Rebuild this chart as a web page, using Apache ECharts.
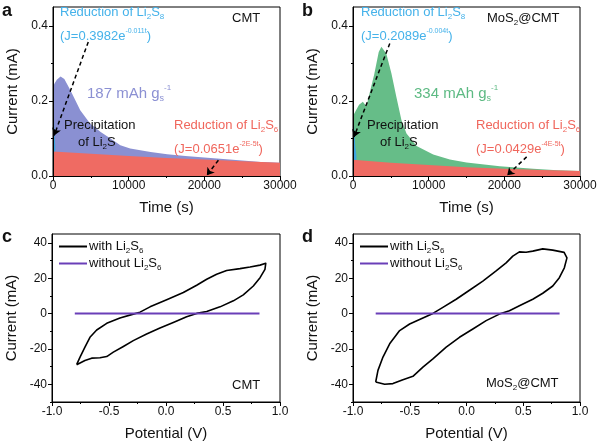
<!DOCTYPE html>
<html><head><meta charset="utf-8">
<script src="https://cdn.jsdelivr.net/npm/echarts@6/dist/echarts.min.js"></script>
<style>html,body{margin:0;padding:0;background:#fff}#c{width:600px;height:448px}</style>
</head><body><div id="c"></div>
<script>
// ---- Panel a (CMT) chronoamperometry ----
const timeA  = [0, 200, 500, 1000, 1500, 2300, 3000, 3600, 4900, 6300, 7600, 8900, 10200, 12900, 15100, 17500, 20000, 22500, 25000, 27500, 30000];
const totalA = [0.237, 0.246, 0.256, 0.265, 0.258, 0.228, 0.200, 0.175, 0.140, 0.117, 0.100, 0.082, 0.073, 0.064, 0.058, 0.053, 0.049, 0.045, 0.041, 0.037, 0.035];
const redTimeA = [0, 5000, 10000, 15000, 20000, 25000, 30000];
const redA     = [0.065, 0.059, 0.053, 0.048, 0.044, 0.039, 0.035];
const blueTimeA = [0, 60, 120, 200, 300];
const blueA     = [0.40, 0.25, 0.16, 0.11, 0.08];
// ---- Panel b (MoS2@CMT) ----
const timeB  = [0, 400, 800, 1300, 1770, 1900, 2800, 3400, 3750, 4400, 5080, 5740, 6400, 7070, 8400, 10600, 12800, 15000, 19400, 23800, 27000, 30000];
const totalB = [0.160, 0.175, 0.190, 0.198, 0.186, 0.188, 0.270, 0.330, 0.344, 0.326, 0.273, 0.210, 0.149, 0.113, 0.080, 0.057, 0.044, 0.036, 0.026, 0.019, 0.0155, 0.0135];
const redTimeB = [0, 5000, 10000, 15000, 20000, 25000, 30000];
const redB     = [0.043, 0.035, 0.029, 0.0235, 0.0195, 0.016, 0.013];
const blueTimeB = [0, 100, 200, 300, 450];
const blueB     = [0.20, 0.15, 0.11, 0.08, 0.055];
// arrows (data coords): [fromT, fromV, toT, toV]
const arrowsA = [[4660, 0.357, 150, 0.108], [21860, 0.042, 20330, 0.002]];
const arrowsB = [[4860, 0.353, 130, 0.104], [22950, 0.051, 20380, 0.002]];
// ---- Panel c / d CV loops ----
const cvC_V = [-0.784,-0.754,-0.711,-0.667,-0.608,-0.52,-0.404,-0.287,-0.228,-0.14,0.006,0.152,0.269,0.357,0.444,0.532,0.649,0.737,0.825,0.875,0.868,0.825,0.766,0.678,0.591,0.474,0.357,0.269,0.181,0.064,-0.053,-0.17,-0.287,-0.374,-0.462,-0.52,-0.579,-0.652,-0.711,-0.784];
const cvC_I = [-28.9,-24.6,-19.0,-13.4,-9.3,-5.5,-2.5,-0.3,0.8,3.8,7.8,11.9,16.0,19.4,22.2,24.4,25.4,26.3,27.4,28.4,25.0,20.3,15.6,10.6,7.2,3.8,1.2,0.1,-1.8,-5.0,-8.1,-11.5,-15.3,-18.6,-21.8,-24.3,-25.0,-25.2,-26.5,-28.9];
const cvD_V = [-0.80,-0.78,-0.736,-0.677,-0.589,-0.501,-0.384,-0.296,-0.208,-0.091,0.026,0.144,0.261,0.349,0.408,0.466,0.525,0.584,0.672,0.76,0.86,0.885,0.862,0.818,0.76,0.672,0.584,0.466,0.378,0.29,0.173,0.056,-0.062,-0.179,-0.296,-0.384,-0.472,-0.56,-0.648,-0.721,-0.80];
const cvD_I = [-38.7,-32.1,-24.6,-17.1,-9.6,-5.9,-2.5,0.1,3.5,8.1,13.2,18.4,24.1,28.7,32.5,34.9,34.7,35.3,36.6,35.9,34.6,31.5,25.9,20.3,15.6,11.5,8.1,4.4,1.6,-0.3,-4.0,-8.7,-13.4,-19.0,-25.6,-30.3,-35.5,-37.4,-39.6,-40.0,-38.7];
const blankV = [-0.8, 0.82];
const blankI = [0, 0];
// ticks
const yTicksAB = [0, 0.2, 0.4], yMinorAB = [0.1, 0.3];
const yTicksCD = [-40, -20, 0, 20, 40], yMinorCD = [-50, -30, -10, 10, 30];

const FONT = 'Liberation Sans, Arial, sans-serif';
const zip = (x, y) => x.map((v, i) => [v, y[i]]);
const C = { purple: '#8a90d2', red: '#ef6b63', green: '#66bd88', blue: '#3ea6e0', blueText: '#45b2ea', redText: '#f0665c', purpText: '#8b90d3', greenText: '#5dba83', cvPurple: '#6a3fb8' };

const grids = [
  { left: 53, top: 7, width: 227, height: 169 },
  { left: 353, top: 7, width: 227, height: 169 },
  { left: 52, top: 234, width: 228, height: 168 },
  { left: 353, top: 234, width: 227, height: 168 }
].map(g => Object.assign(g, { show: true, borderColor: '#000', borderWidth: 1, backgroundColor: 'transparent' }));

const axLine = { show: true, onZero: false, lineStyle: { color: '#000', width: 1 } };
const lbl = { color: '#111', fontSize: 12, fontFamily: FONT, margin: 5 };
const nameStyle = { color: '#111', fontSize: 15, fontFamily: FONT };

function xAxisTime(gi) {
  return { type: 'value', gridIndex: gi, min: 0, max: 30000, interval: 10000, z: 5,
    axisLine: axLine, axisTick: { show: true, inside: false, length: 4, lineStyle: { color: '#000' } },
    minorTick: { show: true, splitNumber: 2, length: 2, lineStyle: { color: '#000' } },
    splitLine: { show: false }, minorSplitLine: { show: false },
    axisLabel: Object.assign({}, lbl, { margin: 4, formatter: v => String(v) }),
    name: 'Time (s)', nameLocation: 'middle', nameGap: 24, nameTextStyle: nameStyle };
}
function xAxisPot(gi) {
  return { type: 'value', gridIndex: gi, min: -1, max: 1, interval: 0.5, z: 5,
    axisLine: axLine, axisTick: { show: true, length: 4, lineStyle: { color: '#000' } },
    minorTick: { show: true, splitNumber: 2, length: 2, lineStyle: { color: '#000' } },
    splitLine: { show: false }, minorSplitLine: { show: false },
    axisLabel: Object.assign({}, lbl, { margin: 4, formatter: v => v.toFixed(1) }),
    name: 'Potential (V)', nameLocation: 'middle', nameGap: 24, nameTextStyle: nameStyle };
}
function yMain(gi, min, max, ticks, fmt) {
  return { type: 'value', gridIndex: gi, min, max, z: 5,
    axisLine: axLine,
    axisTick: { show: true, length: 4, customValues: ticks, lineStyle: { color: '#000' } },
    axisLabel: Object.assign({}, lbl, { customValues: ticks, formatter: fmt }),
    splitLine: { show: false },
    name: 'Current (mA)', nameLocation: 'middle', nameGap: 33, nameTextStyle: nameStyle };
}
function yMinor(gi, min, max, ticks) {
  return { type: 'value', gridIndex: gi, min, max, position: 'left', z: 5,
    axisLine: { show: false, onZero: false },
    axisTick: { show: true, length: 2, customValues: ticks, lineStyle: { color: '#000' } },
    axisLabel: { show: false }, splitLine: { show: false } };
}

const xAxes = [xAxisTime(0), xAxisTime(1), xAxisPot(2), xAxisPot(3)];
const yAxes = [
  yMain(0, 0, 0.45, yTicksAB, v => v.toFixed(1)), yMinor(0, 0, 0.45, yMinorAB),
  yMain(1, 0, 0.45, yTicksAB, v => v.toFixed(1)), yMinor(1, 0, 0.45, yMinorAB),
  yMain(2, -50, 45, yTicksCD, v => String(v)), yMinor(2, -50, 45, yMinorCD),
  yMain(3, -50, 45, yTicksCD, v => String(v)), yMinor(3, -50, 45, yMinorCD)
];

function area(xi, yi, t, v, color, z) {
  return { type: 'line', xAxisIndex: xi, yAxisIndex: yi, data: zip(t, v), symbol: 'none', showSymbol: false,
    lineStyle: { width: 0 }, areaStyle: { color, opacity: 1 }, z, silent: true, animation: false };
}
function arrows(xi, yi, list) {
  return { type: 'lines', coordinateSystem: 'cartesian2d', xAxisIndex: xi, yAxisIndex: yi, z: 6,
    symbol: ['none', 'arrow'], symbolSize: 7, animation: false,
    lineStyle: { color: '#000', width: 1.5, type: [4, 3], opacity: 1 },
    data: list.map(a => ({ coords: [[a[0], a[1]], [a[2], a[3]]] })) };
}
function cvLine(name, xi, yi, V, I, color, w) {
  return { name, type: 'line', xAxisIndex: xi, yAxisIndex: yi, data: zip(V, I), symbol: 'none', smooth: false,
    lineStyle: { color, width: w, join: 'round' }, itemStyle: { color }, z: 4, animation: false };
}

const series = [
  area(0, 0, timeA, totalA, C.purple, 2),
  area(0, 0, blueTimeA, blueA, C.blue, 3),
  area(0, 0, redTimeA, redA, C.red, 4),
  arrows(0, 0, arrowsA),
  area(1, 2, timeB, totalB, C.green, 2),
  area(1, 2, blueTimeB, blueB, C.blue, 3),
  area(1, 2, redTimeB, redB, C.red, 4),
  arrows(1, 2, arrowsB),
  cvLine('with Li2S6', 2, 4, cvC_V, cvC_I, '#000', 1.6),
  cvLine('without Li2S6', 2, 4, blankV, blankI, C.cvPurple, 2),
  cvLine('with Li2S6', 3, 6, cvD_V, cvD_I, '#000', 1.6),
  cvLine('without Li2S6', 3, 6, blankV, blankI, C.cvPurple, 2)
];

function rich(color, size) {
  return {
    n: { fontSize: size, color, fontFamily: FONT, lineHeight: size + 4 },
    sub: { fontSize: Math.round(size * 0.6), color, fontFamily: FONT, lineHeight: Math.round(size * 0.6), verticalAlign: 'bottom' },
    sup: { fontSize: Math.round(size * 0.55), color, fontFamily: FONT, lineHeight: Math.round(size * 0.55), verticalAlign: 'top' }
  };
}
function txt(x, y, text, color, size) {
  return { type: 'text', left: x, top: y, z: 20, silent: true,
    style: { text, rich: rich(color, size), fill: color, font: size + 'px ' + FONT } };
}
const legendFmt = n => n === 'with Li2S6' ? '{n|with Li}{sub|2}{n|S}{sub|6}' : '{n|without Li}{sub|2}{n|S}{sub|6}';
function legend(left, top) {
  return { left, top, orient: 'vertical', itemWidth: 28, itemHeight: 2, itemGap: 2, icon: 'rect', padding: 0,
    data: ['with Li2S6', 'without Li2S6'], selectedMode: false,
    formatter: legendFmt, textStyle: { rich: rich('#111', 13), padding: [0, 0, 0, -3] } };
}

const graphic = [
  { type: 'text', left: 2, top: 2, style: { text: 'a', font: 'bold 18px ' + FONT, fill: '#111' } },
  { type: 'text', left: 302, top: 2, style: { text: 'b', font: 'bold 18px ' + FONT, fill: '#111' } },
  { type: 'text', left: 2, top: 228, style: { text: 'c', font: 'bold 18px ' + FONT, fill: '#111' } },
  { type: 'text', left: 302, top: 228, style: { text: 'd', font: 'bold 18px ' + FONT, fill: '#111' } },
  // panel a
  txt(60, 6, '{n|Reduction of Li}{sub|2}{n|S}{sub|8}', C.blueText, 13),
  txt(60, 28, '{n|(J=0.3982e}{sup|-0.011t}{n|)}', C.blueText, 13),
  txt(232, 12, '{n|CMT}', '#111', 13),
  txt(87, 84, '{n|187 mAh g}{sub|s}{sup|-1}', C.purpText, 15),
  txt(64, 119, '{n|Precipitation}', '#111', 13),
  txt(78, 136, '{n|of Li}{sub|2}{n|S}', '#111', 13),
  txt(174, 119, '{n|Reduction of Li}{sub|2}{n|S}{sub|6}', C.redText, 13),
  txt(174, 141, '{n|(J=0.0651e}{sup|-2E-5t}{n|)}', C.redText, 13),
  // panel b
  txt(361, 6, '{n|Reduction of Li}{sub|2}{n|S}{sub|8}', C.blueText, 13),
  txt(361, 28, '{n|(J=0.2089e}{sup|-0.004t}{n|)}', C.blueText, 13),
  txt(487, 12, '{n|MoS}{sub|2}{n|@CMT}', '#111', 13),
  txt(414, 84, '{n|334 mAh g}{sub|s}{sup|-1}', C.greenText, 15),
  txt(367, 119, '{n|Precipitation}', '#111', 13),
  txt(380, 136, '{n|of Li}{sub|2}{n|S}', '#111', 13),
  txt(476, 119, '{n|Reduction of Li}{sub|2}{n|S}{sub|6}', C.redText, 13),
  txt(476, 141, '{n|(J=0.0429e}{sup|-4E-5t}{n|)}', C.redText, 13),
  // panel c/d labels
  txt(232, 379, '{n|CMT}', '#111', 13),
  txt(486, 377, '{n|MoS}{sub|2}{n|@CMT}', '#111', 13)
];

const chart = echarts.init(document.getElementById('c'), null, { renderer: 'canvas' });
chart.setOption({
  animation: false,
  textStyle: { fontFamily: FONT },
  grid: grids,
  xAxis: xAxes,
  yAxis: yAxes,
  legend: [legend(59, 240), legend(360, 240)],
  series,
  graphic
});
</script></body></html>
